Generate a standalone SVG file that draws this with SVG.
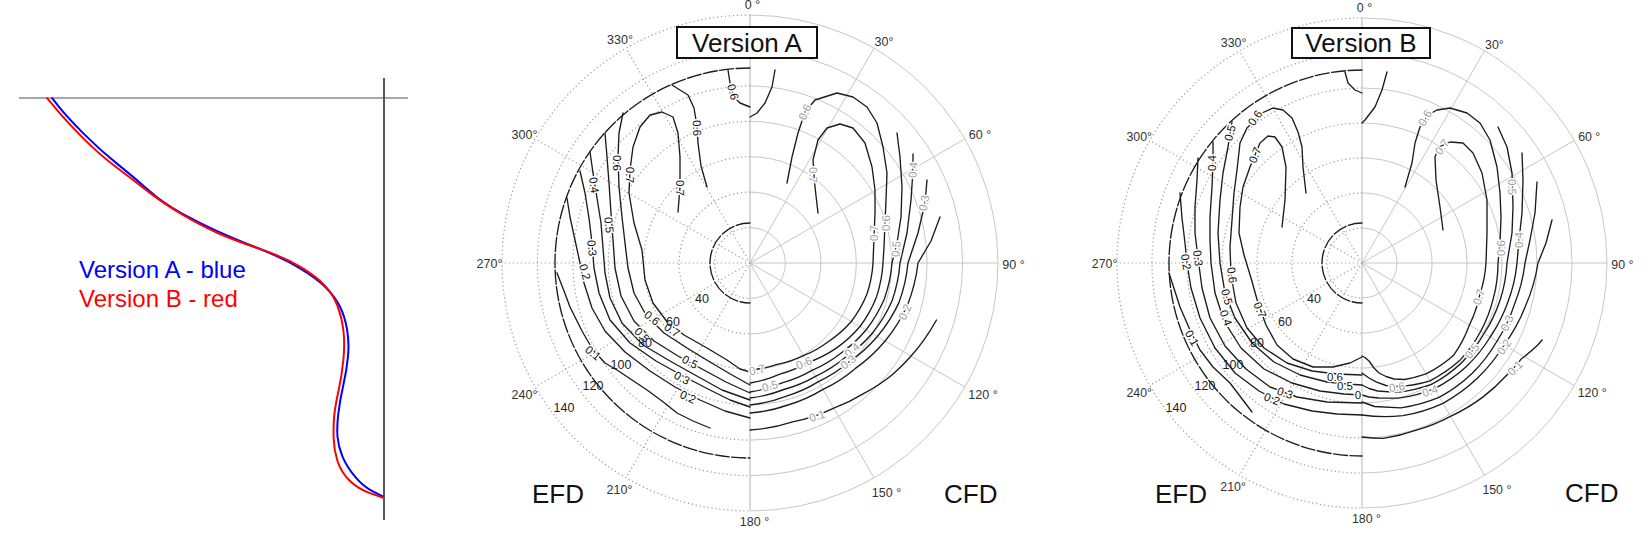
<svg xmlns="http://www.w3.org/2000/svg" xmlns:xlink="http://www.w3.org/1999/xlink" width="1650" height="540" viewBox="0 0 1650 540">
<style>
.gs{fill:none;stroke:#c6c6c6;stroke-width:1}
.gd{fill:none;stroke:#9a9a9a;stroke-width:1.2;stroke-dasharray:1.2 2.8}
.ax{stroke:#b4b4b4;stroke-width:1}
.ct{fill:none;stroke:#1c1c1c;stroke-width:1.35;stroke-linejoin:round;stroke-linecap:round}
.bd{fill:none;stroke:#1c1c1c;stroke-width:1.35;stroke-dasharray:14 2.5}
.ang{font-family:"Liberation Sans",Arial,sans-serif;font-size:12.5px;fill:#333;text-anchor:middle}
.rad{font-family:"Liberation Sans",Arial,sans-serif;font-size:12.5px;fill:#222;text-anchor:middle;dominant-baseline:central}
.lb{font-family:"Liberation Sans",Arial,sans-serif;font-size:11.5px;text-anchor:middle;dominant-baseline:central;paint-order:stroke;stroke:#fff;stroke-width:3px;stroke-linejoin:round}
.k{fill:#111}
.g{fill:#a0a0a0}
.big{font-family:"Liberation Sans",Arial,sans-serif;font-size:26px;fill:#111}
.box{fill:#fff;stroke:#111;stroke-width:2}
.leg{font-family:"Liberation Sans",Arial,sans-serif;font-size:24px}
</style>
<defs>
<g id="grid">
 <g class="gs">
  <path d="M0,-35.4A35.4,35.4 0 0 1 0,35.4M0,-70.9A70.9,70.9 0 0 1 0,70.9M0,-106.3A106.3,106.3 0 0 1 0,106.3M0,-141.7A141.7,141.7 0 0 1 0,141.7M0,-177.1A177.1,177.1 0 0 1 0,177.1M0,-212.6A212.6,212.6 0 0 1 0,212.6M0,-248A248,248 0 0 1 0,248"/>
  <path d="M0,0L124,-214.8M0,0L214.8,-124M0,0L248,0M0,0L214.8,124M0,0L124,214.8"/>
 </g>
 <g class="gd">
  <path d="M0,-35.4A35.4,35.4 0 0 0 0,35.4M0,-70.9A70.9,70.9 0 0 0 0,70.9M0,-106.3A106.3,106.3 0 0 0 0,106.3M0,-141.7A141.7,141.7 0 0 0 0,141.7M0,-177.1A177.1,177.1 0 0 0 0,177.1M0,-212.6A212.6,212.6 0 0 0 0,212.6M0,-248A248,248 0 0 0 0,248"/>
  <path d="M0,0L-124,214.8M0,0L-214.8,124M0,0L-248,0M0,0L-214.8,-124M0,0L-124,-214.8"/>
 </g>
 <line class="ax" x1="0" y1="-248" x2="0" y2="248"/>
 <g class="ang">
  <text x="2.5" y="-254">0 °</text>
  <text x="134" y="-217">30°</text>
  <text x="230" y="-124">60 °</text>
  <text x="263.5" y="6">90 °</text>
  <text x="233" y="136">120 °</text>
  <text x="136.5" y="234">150 °</text>
  <text x="4.5" y="263">180 °</text>
  <text x="-130.5" y="231">210°</text>
  <text x="-225.5" y="136">240°</text>
  <text x="-260.5" y="5">270°</text>
  <text x="-225.5" y="-124">300°</text>
  <text x="-130" y="-219">330°</text>
 </g>
</g>
<g id="rlab" class="rad">
 <text x="-48" y="36">40</text>
 <text x="-77" y="59">60</text>
 <text x="-105" y="80">80</text>
 <text x="-129" y="102">100</text>
 <text x="-157" y="123">120</text>
 <text x="-186" y="145">140</text>
</g>
</defs>

<g id="profile-panel">
 <line x1="19" y1="98" x2="408" y2="98" stroke="#8a8a8a" stroke-width="1.5"/>
 <line x1="384" y1="78" x2="384" y2="520" stroke="#555" stroke-width="2"/>
 <path fill="none" stroke="#0000ff" stroke-width="2" d="M51.7,97.7 L59.2,107.2 Q66.7,116.7 83.35,133.35 Q100,150 116.65,163.35 Q133.3,176.7 148.3,190 Q163.3,203.3 181.65,213.3 Q200,223.3 216.65,230.8 Q233.3,238.3 258.3,248.3 Q283.3,258.3 300,268.3 Q316.7,278.3 325.85,287.5 Q335,296.7 340,306.7 Q345,316.7 347.15,330 Q349.3,343.3 348,356.65 Q346.7,370 343.35,385 Q340,400 338.35,413.35 Q336.7,426.7 337.5,436.7 Q338.3,446.7 342.5,456.7 Q346.7,466.7 355,476.7 Q363.3,486.7 373.3,491.7 L383.3,496.7"/>
 <path fill="none" stroke="#ff0000" stroke-width="2" d="M46.7,97.7 L56.7,109.7 Q66.7,121.7 83.35,138.35 Q100,155 116.65,167.5 Q133.3,180 148.3,191.65 Q163.3,203.3 181.65,214.15 Q200,225 216.65,232.5 Q233.3,240 258.3,248.35 Q283.3,256.7 300,266.7 Q316.7,276.7 325,285.85 Q333.3,295 337.5,305.85 Q341.7,316.7 343.35,330 Q345,343.3 343.35,360 Q341.7,376.7 338.35,391.7 Q335,406.7 334.15,416.7 Q333.3,426.7 333.65,438.35 Q334,450 337.5,461 Q341,472 349.5,480.5 Q358,489 370.65,493.35 L383.3,497.7"/>
 <text class="leg" x="79" y="278" fill="#0000ff">Version A - blue</text>
 <text class="leg" x="79" y="307" fill="#ff0000">Version B - red</text>
</g>

<g id="plot-a" transform="translate(750,263)">
 <use xlink:href="#grid" href="#grid"/>
 <g id="plot-a-contours" class="ct">
  <path class="bd" d="M0,-195 A195 195 0 0 0 0,195"/>
  <path class="bd" d="M0,-40 A40 40 0 0 0 0,40"/>
  <path d="M-22,-193 -20,-180 -17,-167 -10,-160 0,-156"/>
  <path d="M-78,-178 -62,-168 -56,-155 -53,-137 -52,-120 -49,-97 -43,-76"/>
  <path d="M-72,-51 -70,-76 -70,-106 -72,-130 -77,-146 -88,-151 -100,-148 -110,-136 -117,-116 -120,-93 -121,-70 -116,-40 -108,-13 -105,17 -97,40 -82,60 -66,72 -43,85 -23,97 -10,106 0,109"/>
  <path d="M-127,-150 -131,-130 -132,-106 -131,-76 -128,-46 -125,-20 -122,5 -116,30 -104,52 -86,70 -63,85 -40,99 -18,112 0,122"/>
  <path d="M-145,-130 -143,-106 -141,-80 -139,-50 -137,-23 -135,5 -129,33 -116,58 -96,78 -72,93 -48,106 -24,119 0,130"/>
  <path d="M-160,-111 -157,-90 -153,-65 -149,-40 -147,-15 -145,10 -140,35 -128,60 -107,82 -80,98 -55,112 -28,127 0,137"/>
  <path d="M-170,-92 -165,-70 -161,-45 -158,-20 -156,5 -151,30 -140,57 -120,80 -94,98 -67,113 -42,126 -20,137 0,144"/>
  <path d="M-183,-65 -180,-46 -175,-23 -170,0 -166,20 -158,45 -145,68 -125,89 -100,108 -75,124 -50,137 -25,148 0,155"/>
  <path d="M-193,10 -186,28 -180,44 -168,68 -157,87 -145,100 -133,107 -118,117 -103,127 -88,138 -73,150 -57,158 -40,165"/>
  <path d="M25,-193 22,-176 15,-160 7,-150 0,-146"/>
  <path d="M37,-80 42,-106 48,-130 55,-151 65,-163 87,-170 103,-166 117,-156 127,-140 133,-116 137,-90 136,-63 135,-40 134,-16 133,0 A132 132 0 0 1 126.5,33.9 A129 129 0 0 1 110,63.5 A124 124 0 0 1 85.6,85.6 A118 118 0 0 1 57.5,99.6 A115 115 0 0 1 29.8,111.1 A117 117 0 0 1 0,120"/>
  <path d="M68,-50 65,-76 63,-103 68,-123 77,-135 90,-139 103,-135 115,-120 122,-96 125,-73 125,-50 124,-25 123,0 A121 121 0 0 1 116.9,31.3 A119 119 0 0 1 101.3,58.5 A114 114 0 0 1 78.5,78.5 A109 109 0 0 1 53.5,92.7 A106 106 0 0 1 27.2,101.4 A106 106 0 0 1 0,107"/>
  <path d="M147,-130 150,-106 152,-76 151,-46 147,-20 142,0 A140 140 0 0 1 134.3,36 A136 136 0 0 1 116,67 A131 131 0 0 1 90.5,90.5 A126 126 0 0 1 62,107.4 A124 124 0 0 1 32.1,119.8 A126 126 0 0 1 0,129"/>
  <path d="M163,-109 163,-93 161,-63 157,-30 150,0 A148 148 0 0 1 142,38 A144 144 0 0 1 122.1,70.5 A137 137 0 0 1 94.8,94.8 A132 132 0 0 1 65.5,113.4 A131 131 0 0 1 33.9,126.5 A133 133 0 0 1 0,135"/>
  <path d="M177,-83 175,-60 168,-30 158,0 A156 156 0 0 1 148.8,39.9 A150 150 0 0 1 127.3,73.5 A143 143 0 0 1 99,99 A138 138 0 0 1 68.5,118.6 A137 137 0 0 1 35.7,133.3 A140 140 0 0 1 0,142"/>
  <path d="M190,-46 181,-22 168,0 A165 165 0 0 1 157.4,42.2 A159 159 0 0 1 135.1,78 A152 152 0 0 1 105.4,105.4 A147 147 0 0 1 73,126.4 A146 146 0 0 1 38,142 A148 148 0 0 1 0,150"/>
  <path d="M186.5,57 A192 192 0 0 1 173.6,77.3 A188 188 0 0 1 161.1,93 A183 183 0 0 1 142.6,111.4 A177 177 0 0 1 113.5,130.6 A170 170 0 0 1 83.8,145.1 A166 166 0 0 1 42.6,158.9 A165 165 0 0 1 0,167"/>
 </g>
 <g id="plot-a-labels" class="lb">
  <text class="k" transform="translate(-17,-171) rotate(75)">0.6</text>
  <text class="k" transform="translate(-53,-135) rotate(88)">0.6</text>
  <text class="k" transform="translate(-133,-100) rotate(90)">0.6</text>
  <text class="k" transform="translate(-120,-88) rotate(92)">0.7</text>
  <text class="k" transform="translate(-70,-75) rotate(90)">0.7</text>
  <text class="k" transform="translate(-156,-78) rotate(82)">0.4</text>
  <text class="k" transform="translate(-141,-38) rotate(85)">0.5</text>
  <text class="k" transform="translate(-158,-15) rotate(85)">0.3</text>
  <text class="k" transform="translate(-165,9) rotate(75)">0.2</text>
  <text class="k" transform="translate(-98,55) rotate(40)">0.6</text>
  <text class="k" transform="translate(-78,67) rotate(35)">0.7</text>
  <text class="k" transform="translate(-108,72) rotate(45)">0.5</text>
  <text class="k" transform="translate(-157,90) rotate(40)">0.1</text>
  <text class="k" transform="translate(-60,99) rotate(28)">0.5</text>
  <text class="k" transform="translate(-68,115) rotate(28)">0.3</text>
  <text class="k" transform="translate(-62,134) rotate(25)">0.2</text>
  <text class="g" transform="translate(55,-151) rotate(-65)">0.6</text>
  <text class="g" transform="translate(63,-88) rotate(90)">0.7</text>
  <text class="g" transform="translate(163,-93) rotate(-85)">0.4</text>
  <text class="g" transform="translate(174,-60) rotate(-80)">0.3</text>
  <text class="g" transform="translate(124,-30) rotate(-90)">0.7</text>
  <text class="g" transform="translate(136,-40) rotate(-90)">0.6</text>
  <text class="g" transform="translate(146,-14) rotate(-85)">0.5</text>
  <text class="g" transform="translate(155,49) rotate(-65)">0.2</text>
  <text class="g" transform="translate(102,87) rotate(-40)">0.4</text>
  <text class="g" transform="translate(98,99) rotate(-38)">0.3</text>
  <text class="g" transform="translate(54,100) rotate(-22)">0.6</text>
  <text class="g" transform="translate(7,107) rotate(-12)">0.7</text>
  <text class="g" transform="translate(20,123) rotate(-15)">0.5</text>
  <text class="g" transform="translate(67,153) rotate(-18)">0.1</text>
 </g>
 <use xlink:href="#rlab" href="#rlab"/>
 <g id="title-a">
  <rect class="box" x="-73" y="-236" width="140" height="31"/>
  <text class="big" x="-3" y="-211" text-anchor="middle">Version A</text>
 </g>
</g>
<text class="big" x="532" y="503">EFD</text>
<text class="big" x="944" y="503">CFD</text>

<g id="plot-b" transform="translate(1362,263)">
 <use xlink:href="#grid" href="#grid" transform="scale(0.988)"/>
 <g id="plot-b-contours" class="ct">
  <path class="bd" d="M0,-193 A193 193 0 0 0 0,193"/>
  <path class="bd" d="M0,-40 A40 40 0 0 0 0,40"/>
  <path d="M-17,-191 -14,-180 -7,-173 0,-170"/>
  <path d="M-56,-70 -59,-96 -60,-116 -64,-131 -70,-145 -79,-153 -89,-155 -100,-150 -115,-135 -122,-120 -125,-93 -128,-70 -130,-43 -132,-16 -131,12 -126,40 -115,65 -98,85 -75,100 -50,108 -25,111 0,112"/>
  <path d="M-80,-36 -77,-63 -76,-96 -80,-116 -87,-126 -94,-127 -102,-120 -112,-96 -119,-76 -122,-56 -123,-30 -118,-8 -111,15 -104,40 -96,62 -85,82 -69,96 -49,104 -29,104 -12,100 0,94"/>
  <path d="M-130,-141 -134,-116 -139,-90 -142,-63 -144,-30 -142,0 -137,30 -127,55 -110,80 -88,99 -62,112 -35,119 -15,121 0,122"/>
  <path d="M-149,-121 -149,-100 -150,-76 -152,-46 -152,-23 -151,0 -147,30 -138,58 -121,85 -98,106 -70,120 -42,128 -18,131 0,132"/>
  <path d="M-164,-105 -165,-83 -167,-56 -167,-30 -164,-5 -160,25 -152,55 -137,83 -116,106 -92,124 -65,134 -35,139 0,140"/>
  <path d="M-182,-70 -180,-45 -177,-20 -175,0 -171,25 -162,55 -147,85 -127,110 -103,128 -78,141 -50,148 -25,151 0,152"/>
  <path d="M-193,10 -182,44 -172,67 -162,87 -149,104 -132,120 -110,149"/>
  <path d="M25,-191 20,-173 13,-156 3,-143 0,-140"/>
  <path d="M43,-76 50,-100 53,-120 58,-136 66,-148 75,-153 88,-155 105,-150 118,-140 128,-123 135,-96 138,-70 139,-46 138,-20 136,0 A136 136 0 0 1 131.4,35.2 A137 137 0 0 1 118.6,68.5 A137 137 0 0 1 97.6,97.6 A137 137 0 0 1 68,117.8 A132 132 0 0 1 35.4,123.5 L24,122.5 14.6,119.1 7,115 0,110"/>
  <path d="M81,-33 78,-56 74,-83 73,-106 77,-116 88,-121 101,-120 111,-110 120,-90 125,-63 125,-30 124,0 A123 123 0 0 1 117.8,31.6 A123 123 0 0 1 107.4,62 A127 127 0 0 1 91.9,91.9 A129 129 0 0 1 64,110.9 A126 126 0 0 1 42.4,116.5 L32,116 24,113.5 17,110 12,105 7,98 3,94.5 0,93"/>
  <path d="M136,-136 145,-116 150,-90 151,-56 150,-30 147,-12 145,0 A144 144 0 0 1 138.1,37 A142 142 0 0 1 122.1,70.5 A141 141 0 0 1 99.7,99.7 A140 140 0 0 1 70,121.2 A137 137 0 0 1 34.7,129.4 L15.7,128 7,125.5 0,122"/>
  <path d="M160,-110 161,-83 160,-50 157,-23 155,0 A153 153 0 0 1 145.9,39.1 A150 150 0 0 1 128.2,74 A147 147 0 0 1 103.9,103.9 A146 146 0 0 1 72.5,125.6 A142 142 0 0 1 36.2,135.2 L16.6,135 7,134 0,132"/>
  <path d="M175,-81 173,-50 168,-23 163,0 A160 160 0 0 1 152.6,40.9 A157 157 0 0 1 135.1,78 A156 156 0 0 1 110.3,110.3 A155 155 0 0 1 77.5,134.2 A152 152 0 0 1 38.8,144.9 L12.6,143.5 0,139"/>
  <path d="M190,-43 184,-20 176,0 A172 172 0 0 1 163.2,43.7 A166 166 0 0 1 142,82 A163 163 0 0 1 115.3,115.3 A162 162 0 0 1 81,140.3 A160 160 0 0 1 40.9,152.6 A155 155 0 0 1 0,152"/>
  <path d="M180,77 175.8,82 A190 190 0 0 1 159.4,95.8 A184 184 0 0 1 144.2,112.7 A182 182 0 0 1 120.8,134.1 A178 178 0 0 1 88.5,153.3 A176 176 0 0 1 54.3,167.1 A176 176 0 0 1 21.5,175.3 A175 175 0 0 1 0,174"/>
 </g>
 <g id="plot-b-labels" class="lb">
  <text class="k" transform="translate(-107,-145) rotate(-55)">0.6</text>
  <text class="k" transform="translate(-132,-130) rotate(-75)">0.5</text>
  <text class="k" transform="translate(-150,-100) rotate(-90)">0.4</text>
  <text class="k" transform="translate(-107,-108) rotate(-68)">0.7</text>
  <text class="k" transform="translate(-164,-5) rotate(82)">0.3</text>
  <text class="k" transform="translate(-176,-1) rotate(80)">0.2</text>
  <text class="k" transform="translate(-130,12) rotate(82)">0.6</text>
  <text class="k" transform="translate(-135,34) rotate(75)">0.5</text>
  <text class="k" transform="translate(-136,55) rotate(70)">0.4</text>
  <text class="k" transform="translate(-102,47) rotate(68)">0.7</text>
  <text class="k" transform="translate(-170,75) rotate(60)">0.1</text>
  <text class="k" transform="translate(-27,114)">0.6</text>
  <text class="k" transform="translate(-17,123)">0.5</text>
  <text class="k" transform="translate(-4,132)">0</text>
  <text class="k" transform="translate(-77,130) rotate(18)">0.3</text>
  <text class="k" transform="translate(-90,136) rotate(22)">0.2</text>
  <text class="g" transform="translate(63,-145) rotate(-60)">0.6</text>
  <text class="g" transform="translate(80,-116) rotate(-55)">0.7</text>
  <text class="g" transform="translate(150,-76) rotate(90)">0.5</text>
  <text class="g" transform="translate(139,-15) rotate(-90)">0.6</text>
  <text class="g" transform="translate(157,-23) rotate(-90)">0.4</text>
  <text class="g" transform="translate(117,34) rotate(-72)">0.7</text>
  <text class="g" transform="translate(145,60) rotate(-65)">0.3</text>
  <text class="g" transform="translate(110,88) rotate(-50)">0.5</text>
  <text class="g" transform="translate(142,84) rotate(-55)">0.2</text>
  <text class="g" transform="translate(153,105) rotate(-45)">0.1</text>
  <text class="g" transform="translate(35,124) rotate(-10)">0.6</text>
  <text class="g" transform="translate(68,128) rotate(-18)">0.4</text>
 </g>
 <use xlink:href="#rlab" href="#rlab"/>
 <g id="title-b">
  <rect class="box" x="-70" y="-235" width="138" height="30"/>
  <text class="big" x="-1" y="-211" text-anchor="middle">Version B</text>
 </g>
</g>
<text class="big" x="1155" y="503">EFD</text>
<text class="big" x="1565" y="502">CFD</text>
</svg>
